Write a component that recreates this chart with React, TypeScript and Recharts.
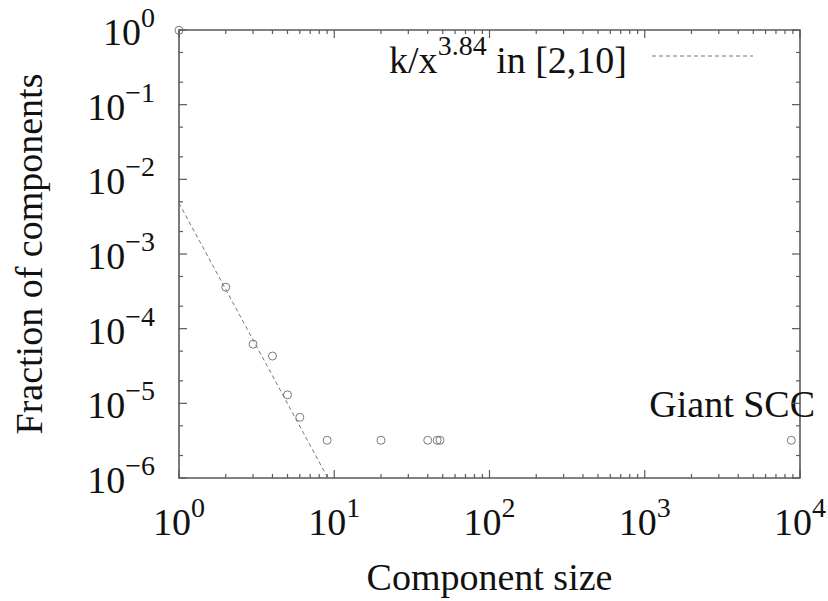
import { ScatterChart, Scatter, XAxis, YAxis, ReferenceArea, ReferenceDot } from 'recharts'

// component size vs. fraction of components (log-log)
const SIZES = [1, 2, 3, 4, 5, 6, 9, 20, 40, 46, 48, 8790]
const FRACTIONS = [0.99, 3.6e-4, 6.2e-5, 4.3e-5, 1.3e-5, 6.5e-6, 3.2e-6, 3.2e-6, 3.2e-6, 3.2e-6, 3.2e-6, 3.2e-6]
const X_TICKS = [1, 10, 100, 1000, 10000]
const X_EXP = ['0', '1', '2', '3', '4']
const Y_TICKS = [1e-6, 1e-5, 1e-4, 1e-3, 1e-2, 1e-1, 1]
const Y_EXP = ['\u22126', '\u22125', '\u22124', '\u22123', '\u22122', '\u22121', '0']

// power-law fit k/x^3.84 over [2,10]
const FIT_K = 4.8e-3
const FIT_EXP = 3.84
const Y_MIN = 1e-6
const GIANT_SCC = 8790

const W = 828
const H = 601
const PLOT_W = 621
const PLOT_H = 448
const TEXT = { fontFamily: 'Liberation Serif', fontSize: 38, fill: '#111' }
const AXIS_COLOR = '#5a5a5a'

const points = SIZES.map((x, i) => ({ x, y: FRACTIONS[i] }))
const fitEnd = Math.pow(FIT_K / Y_MIN, 1 / FIT_EXP)
const fitLine = [
  { x: 1, y: FIT_K },
  { x: fitEnd, y: FIT_K / Math.pow(fitEnd, FIT_EXP) },
]

const xMinor: number[] = []
for (let d = 1; d < 10000; d *= 10) for (let m = 2; m <= 9; m++) xMinor.push(m * d)
const yMinor: number[] = []
for (let d = 1e-6; d < 0.5; d *= 10) for (const m of [2, 5]) yMinor.push(m * d)

const findTick = (v: number, majors: number[]) => majors.findIndex((t) => Math.abs(t - v) / t < 1e-6)

function XTick(props: any) {
  const { x, y, payload } = props
  const idx = findTick(payload.value, X_TICKS)
  const len = idx >= 0 ? 8 : 4
  return (
    <g>
      <line x1={x} x2={x} y1={y} y2={y - len} stroke={AXIS_COLOR} strokeWidth={1.2} />
      <line x1={x} x2={x} y1={y - PLOT_H} y2={y - PLOT_H + len} stroke={AXIS_COLOR} strokeWidth={1.2} />
      {idx >= 0 && (
        <text x={x} y={y + 57} textAnchor="middle" style={TEXT}>
          10<tspan style={{ fontSize: 28 }} dy={-18}>{X_EXP[idx]}</tspan>
        </text>
      )}
    </g>
  )
}

function YTick(props: any) {
  const { x, y, payload } = props
  const idx = findTick(payload.value, Y_TICKS)
  const len = idx >= 0 ? 8 : 4
  return (
    <g>
      <line x1={x} x2={x + len} y1={y} y2={y} stroke={AXIS_COLOR} strokeWidth={1.2} />
      <line x1={x + PLOT_W} x2={x + PLOT_W - len} y1={y} y2={y} stroke={AXIS_COLOR} strokeWidth={1.2} />
      {idx >= 0 && (
        <text x={x - 24} y={y + 15} textAnchor="end" style={TEXT}>
          10<tspan style={{ fontSize: 28 }} dy={-18}>{Y_EXP[idx]}</tspan>
        </text>
      )}
    </g>
  )
}

function Circle(props: any) {
  const { cx, cy } = props
  return <circle cx={cx} cy={cy} r={4} fill="none" stroke="#7a7a7a" strokeWidth={1} />
}

function FitKey(props: any) {
  const { x, y, width } = props.viewBox
  const right = x + width
  return (
    <g>
      <text x={right - 173} y={y + 43} textAnchor="end" style={TEXT}>
        k/x<tspan style={{ fontSize: 28 }} dy={-18}>3.84</tspan>
        <tspan dy={18}> in [2,10]</tspan>
      </text>
      <line x1={right - 148} x2={right - 47} y1={y + 26} y2={y + 26} stroke="#777" strokeWidth={1} strokeDasharray="4 3" />
    </g>
  )
}

function GiantLabel(props: any) {
  const { x, y } = props.viewBox
  return (
    <text x={x - 142} y={y - 23} style={TEXT}>
      Giant SCC
    </text>
  )
}

function XTitle(props: any) {
  const { x, y, width } = props.viewBox
  return (
    <text x={x + width / 2} y={y + 112} textAnchor="middle" style={TEXT}>
      Component size
    </text>
  )
}

function YTitle(props: any) {
  const { x, y, height } = props.viewBox
  const cx = x + 42
  const cy = y + height / 2
  return (
    <text x={cx} y={cy} transform={`rotate(-90, ${cx}, ${cy})`} textAnchor="middle" style={TEXT}>
      Fraction of components
    </text>
  )
}

export default function App() {
  return (
    <div style={{ position: 'absolute', left: 0, top: 0, background: '#fff' }}>
      <ScatterChart width={W} height={H} margin={{ top: 30, right: 28, bottom: 0, left: 0 }}>
        <XAxis
          type="number"
          dataKey="x"
          scale="log"
          domain={[1, 10000]}
          ticks={[...X_TICKS, ...xMinor]}
          interval={0}
          height={123}
          tickSize={0}
          tickMargin={0}
          axisLine={false}
          tickLine={false}
          tick={<XTick />}
          label={<XTitle />}
        />
        <YAxis
          type="number"
          dataKey="y"
          scale="log"
          domain={[1e-6, 1]}
          ticks={[...Y_TICKS, ...yMinor]}
          interval={0}
          width={179}
          tickSize={0}
          tickMargin={0}
          axisLine={false}
          tickLine={false}
          tick={<YTick />}
          label={<YTitle />}
        />
        <ReferenceArea
          x1={1}
          x2={10000}
          y1={1e-6}
          y2={1}
          fill="none"
          fillOpacity={0}
          stroke={AXIS_COLOR}
          strokeWidth={1.6}
          label={<FitKey />}
        />
        <Scatter
          data={fitLine}
          line={{ stroke: '#777', strokeWidth: 1, strokeDasharray: '4 3' }}
          lineType="joint"
          shape={() => <g />}
          isAnimationActive={false}
        />
        <Scatter data={points} shape={<Circle />} isAnimationActive={false} />
        <ReferenceDot x={GIANT_SCC} y={3.2e-6} r={0} fill="none" stroke="none" label={<GiantLabel />} />
      </ScatterChart>
    </div>
  )
}
